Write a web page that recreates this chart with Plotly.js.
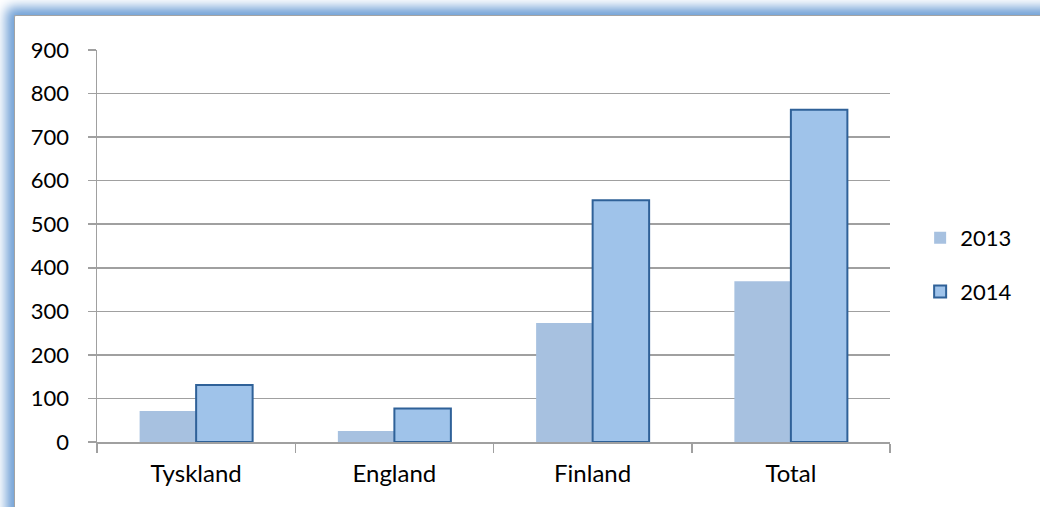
<!DOCTYPE html>
<html>
<head>
<meta charset="utf-8">
<script src="https://cdn.plot.ly/plotly-3.0.1.min.js"></script>
<style>
  html, body { margin: 0; padding: 0; background: #ffffff; overflow: hidden; }
  #wrap { position: relative; width: 1040px; height: 507px; overflow: hidden; background: #ffffff; }
  #frame { position: absolute; left: 14px; top: 15px; width: 1200px; height: 700px;
           background: #ffffff; border-left: 1.5px solid #a3a3a3; border-top: 1.5px solid #a3a3a3;
           box-shadow: -1px -1px 12px 7px rgba(112,160,214,1); border-top-left-radius: 2px; }
  #chart { position: absolute; left: 0; top: 0; width: 1040px; height: 507px; }
</style>
</head>
<body>
<div id="wrap">
  <div id="frame"></div>
  <div id="chart"></div>
</div>
<script>
const categories = ["Tyskland", "England", "Finland", "Total"];
const values2013 = [71, 25, 273, 369];
const values2014 = [131, 77, 555, 763];
const seriesNames = ["2013", "2014"];
const yTicks = [0, 100, 200, 300, 400, 500, 600, 700, 800, 900];

const font = "Lato, 'Open Sans', 'DejaVu Sans', sans-serif";

const data = [
  {
    type: "bar", name: seriesNames[0], legendgroup: "a", x: categories, y: values2013,
    marker: { color: "#a7c1e0", line: { width: 0 } },
    hoverinfo: "x+y"
  },
  {
    type: "bar", name: seriesNames[1], legendgroup: "b", x: categories, y: values2014,
    marker: { color: "#9fc3ea", line: { color: "#2f6198", width: 2 } },
    hoverinfo: "x+y"
  }
];

const layout = {
  width: 1040, height: 507,
  paper_bgcolor: "rgba(0,0,0,0)", plot_bgcolor: "rgba(0,0,0,0)",
  margin: { l: 97, r: 150, t: 50, b: 65 },
  barmode: "group", bargap: 0.43, bargroupgap: 0,
  font: { family: font, size: 22, color: "#000000" },
  showlegend: true,
  legend: {
    x: 1.038, xanchor: "left", y: 0.574, yanchor: "top",
    font: { family: font, size: 22, color: "#000000" },
    tracegroupgap: 22, itemwidth: 30, bgcolor: "rgba(0,0,0,0)"
  },
  xaxis: {
    type: "category", showgrid: false, showline: true, linecolor: "#a0a0a0", linewidth: 1.5,
    ticks: "outside", tickson: "boundaries", ticklen: 9, tickcolor: "#a0a0a0", tickwidth: 1.5,
    tickfont: { family: font, size: 24, color: "#000000" }, ticklabelstandoff: 10,
    fixedrange: true
  },
  yaxis: {
    range: [0, 900], tickvals: yTicks, ticktext: yTicks.map(String),
    showgrid: true, gridcolor: "#a0a0a0", gridwidth: 1.5, zeroline: false,
    showline: true, linecolor: "#a0a0a0", linewidth: 1.5,
    ticks: "outside", ticklen: 8, tickcolor: "#a0a0a0", tickwidth: 1.5,
    tickfont: { family: font, size: 22, color: "#000000" }, ticklabelstandoff: 14,
    fixedrange: true
  }
};

Plotly.newPlot("chart", data, layout, { displayModeBar: false, staticPlot: true });
</script>
</body>
</html>
